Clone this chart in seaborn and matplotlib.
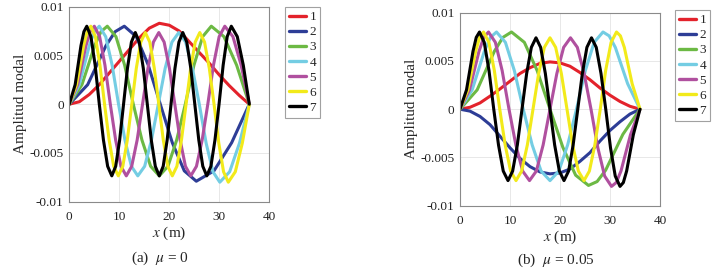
import numpy as np
import pandas as pd
import matplotlib
matplotlib.use("Agg")
import matplotlib.pyplot as plt
import seaborn as sns

# ---------------- data (amplitudes in units of 1e-3) ----------------
modes = ["1", "2", "3", "4", "5", "6", "7"]
colors = ["#e3222b", "#2d3d96", "#6cb944", "#74cde3", "#b0509f", "#f2ea1a", "#000000"]
x_ticks = [0, 10, 20, 30, 40]
y_ticks = [-0.01, -0.005, 0, 0.005, 0.01]
y_tick_labels = ["-0.01", "-0.005", "0", "0.005", "0.01"]
captions = ["(a)  $\\mu$ = 0", "(b)  $\\mu$ = 0.05"]

# panel (a): mu = 0
a1 = [(0, 0), (2, 0.25), (4, 1.0), (6, 2.0), (8, 3.2), (10, 4.4), (12, 5.6), (14, 6.8), (16, 7.8),
      (18, 8.3), (20, 8.1), (22, 7.5), (24, 6.4), (26, 5.3), (28, 4.2), (30, 3.0), (32, 1.9),
      (34, 0.9), (36, 0)]
a2 = [(0, 0), (3.67, 2.0), (7.33, 6.0), (9.17, 7.44), (11.0, 8.0), (13.4, 6.93), (15.8, 4.0),
      (18.2, 0), (20.6, -3.95), (23.0, -6.84), (25.4, -7.9), (28.93, -6.84), (32.47, -3.95), (36, 0)]
a3 = [(0, 0), (2.53, 2.0), (5.07, 6.0), (6.33, 7.44), (7.6, 8.0), (9.33, 6.93), (11.07, 4.0),
      (12.8, 0), (14.53, -3.68), (16.27, -6.37), (18.0, -7.35), (19.73, -6.37), (21.47, -3.68),
      (23.2, 0), (24.93, 4.0), (26.67, 6.93), (28.4, 8.0), (30.93, 6.93), (33.47, 4.0), (36, 0)]
a4 = [(0, 0), (2.0, 2.0), (4.0, 6.0), (5.0, 7.44), (6.0, 8.0), (7.28, 6.93), (8.57, 4.0),
      (9.85, 0), (11.13, -3.68), (12.42, -6.37), (13.7, -7.35), (15.07, -6.37), (16.43, -3.68),
      (17.8, 0), (19.17, 3.68), (20.53, 6.37), (21.9, 7.35), (23.27, 6.37), (24.63, 3.68),
      (26.0, 0), (27.37, -4.0), (28.73, -6.93), (30.1, -8.0), (32.07, -6.93), (34.03, -4.0), (36, 0)]
a5 = [(0, 0), (1.67, 2.0), (3.33, 6.0), (4.17, 7.44), (5.0, 8.0), (6.07, 6.93), (7.13, 4.0),
      (8.2, 0), (9.27, -3.68), (10.33, -6.37), (11.4, -7.35), (12.48, -6.37), (13.57, -3.68),
      (14.65, 0), (15.73, 3.68), (16.82, 6.37), (17.9, 7.35), (18.97, 6.37), (20.03, 3.68),
      (21.1, 0), (22.17, -3.68), (23.23, -6.37), (24.3, -7.35), (25.43, -6.37), (26.57, -3.68),
      (27.7, 0), (28.83, 4.0), (29.97, 6.93), (31.1, 8.0), (32.73, 6.93), (34.37, 4.0), (36, 0)]
a6 = [(0, 0), (1.43, 2.0), (2.87, 6.0), (3.58, 7.44), (4.3, 8.0), (5.22, 6.93), (6.13, 4.0),
      (7.05, 0), (7.97, -3.68), (8.88, -6.37), (9.8, -7.35), (10.7, -6.37), (11.6, -3.68),
      (12.5, 0), (13.4, 3.68), (14.3, 6.37), (15.2, 7.35), (16.1, 6.37), (17.0, 3.68),
      (17.9, 0), (18.8, -3.68), (19.7, -6.37), (20.6, -7.35), (21.52, -6.37), (22.43, -3.68),
      (23.35, 0), (24.27, 3.68), (25.18, 6.37), (26.1, 7.35), (27.05, 6.37), (28.0, 3.68),
      (28.95, 0), (29.9, -4.0), (30.85, -6.93), (31.8, -8.0), (33.2, -6.93), (34.6, -4.0), (36, 0)]
a7 = [(0, 0), (1.17, 2.0), (2.33, 6.0), (2.92, 7.44), (3.5, 8.0), (4.33, 6.93), (5.17, 4.0),
      (6.0, 0), (6.83, -3.68), (7.67, -6.37), (8.5, -7.35), (9.28, -6.37), (10.07, -3.68),
      (10.85, 0), (11.63, 3.68), (12.42, 6.37), (13.2, 7.35), (14.0, 6.37), (14.8, 3.68),
      (15.6, 0), (16.4, -3.68), (17.2, -6.37), (18.0, -7.35), (18.78, -6.37), (19.57, -3.68),
      (20.35, 0), (21.13, 3.68), (21.92, 6.37), (22.7, 7.35), (23.5, 6.37), (24.3, 3.68),
      (25.1, 0), (25.9, -3.68), (26.7, -6.37), (27.5, -7.35), (28.32, -6.37), (29.13, -3.68),
      (29.95, 0), (30.77, 4.0), (31.58, 6.93), (32.4, 8.0), (33.6, 6.93), (34.8, 4.0), (36, 0)]

# panel (b): mu = 0.05
b1 = [(0, 0), (2, 0.2), (4, 0.65), (6, 1.35), (8, 2.1), (10, 2.9), (12, 3.7), (14, 4.3), (16, 4.75),
      (18, 4.9), (20, 4.8), (22, 4.45), (24, 3.8), (26, 3.05), (28, 2.2), (30, 1.45), (32, 0.8),
      (34, 0.3), (36, 0)]
b2 = [(0, 0), (2, -0.2), (4, -0.75), (6, -1.6), (8, -2.8), (10, -4.0), (12, -5.1), (14, -5.95),
      (16, -6.5), (18, -6.7), (20, -6.6), (22, -6.2), (24, -5.4), (26, -4.5), (28, -3.3),
      (30, -2.2), (32, -1.3), (34, -0.5), (36, 0)]
b3 = [(0, 0), (3.43, 2.0), (6.87, 6.0), (8.58, 7.44), (10.3, 8.0), (12.87, 6.93), (15.43, 4.0),
      (18.0, 0), (20.57, -3.95), (23.13, -6.84), (25.7, -7.9), (27.42, -7.5), (29.13, -6.32),
      (32.57, -2.61), (36, 0)]
b4 = [(0, 0), (2.43, 2.0), (4.87, 6.0), (6.08, 7.44), (7.3, 8.0), (9.08, 6.93), (10.87, 4.0),
      (12.65, 0), (14.43, -3.7), (16.22, -6.41), (18.0, -7.4), (19.77, -6.41), (21.53, -3.7),
      (23.3, 0), (25.07, 4.0), (26.83, 6.93), (28.6, 8.0), (29.83, 7.6), (31.07, 6.4),
      (33.53, 2.64), (36, 0)]
b5 = [(0, 0), (1.9, 2.0), (3.8, 6.0), (4.75, 7.44), (5.7, 8.0), (7.07, 6.93), (8.43, 4.0),
      (9.8, 0), (11.17, -3.7), (12.53, -6.41), (13.9, -7.4), (15.27, -6.41), (16.63, -3.7),
      (18.0, 0), (19.37, 3.7), (20.73, 6.41), (22.1, 7.4), (23.47, 6.41), (24.83, 3.7),
      (26.2, 0), (27.57, -4.0), (28.93, -6.93), (30.3, -8.0), (31.25, -7.6), (32.2, -6.4),
      (34.1, -2.64), (36, 0)]
b6 = [(0, 0), (1.57, 2.0), (3.13, 6.0), (3.92, 7.44), (4.7, 8.0), (5.78, 6.93), (6.87, 4.0),
      (7.95, 0), (9.03, -3.7), (10.12, -6.41), (11.2, -7.4), (12.33, -6.41), (13.47, -3.7),
      (14.6, 0), (15.73, 3.7), (16.87, 6.41), (18.0, 7.4), (19.13, 6.41), (20.27, 3.7),
      (21.4, 0), (22.53, -3.7), (23.67, -6.41), (24.8, -7.4), (25.88, -6.41), (26.97, -3.7),
      (28.05, 0), (29.13, 4.0), (30.22, 6.93), (31.3, 8.0), (32.08, 7.6), (32.87, 6.4),
      (34.43, 2.64), (36, 0)]
b7 = [(0, 0), (1.3, 2.0), (2.6, 6.0), (3.25, 7.44), (3.9, 8.0), (4.85, 6.93), (5.8, 4.0),
      (6.75, 0), (7.7, -3.7), (8.65, -6.41), (9.6, -7.4), (10.53, -6.41), (11.47, -3.7),
      (12.4, 0), (13.33, 3.7), (14.27, 6.41), (15.2, 7.4), (16.13, 6.41), (17.07, 3.7),
      (18.0, 0), (18.93, -3.7), (19.87, -6.41), (20.8, -7.4), (21.72, -6.41), (22.63, -3.7),
      (23.55, 0), (24.47, 3.7), (25.38, 6.41), (26.3, 7.4), (27.25, 6.41), (28.2, 3.7),
      (29.15, 0), (30.1, -4.0), (31.05, -6.93), (32.0, -8.0), (32.67, -7.6), (33.33, -6.4),
      (34.67, -2.64), (36, 0)]

panel_a = [a1, a2, a3, a4, a5, a6, a7]
panel_b = [b1, b2, b3, b4, b5, b6, b7]


def to_frame(curves):
    rows = []
    for name, pts in zip(modes, curves):
        for i, (xv, yv) in enumerate(pts):
            rows.append({"mode": name, "order": i, "x": xv, "y": yv * 1e-3})
    return pd.DataFrame(rows)


# ---------------- styling ----------------
sns.set_theme(style="whitegrid")
plt.rcParams["font.family"] = ["Liberation Serif", "DejaVu Serif"]
plt.rcParams["mathtext.fontset"] = "stix"

W, H = 716, 271
fig = plt.figure(figsize=(W / 100, H / 100), dpi=100)
fig.patch.set_facecolor("white")

# axes boxes in pixels (left, top, right, bottom)
boxes = [(69.3, 6.7, 269.3, 201.7), (460.0, 12.7, 660.0, 205.7)]
legend_pos = [(285, 7), (675, 10)]
caption_pos = [(160, 258), (556, 260)]
palette = dict(zip(modes, colors))

for k, curves in enumerate([panel_a, panel_b]):
    l, t, r, b = boxes[k]
    ax = fig.add_axes([l / W, 1 - b / H, (r - l) / W, (b - t) / H])
    df = to_frame(curves)
    sns.lineplot(data=df, x="x", y="y", hue="mode", hue_order=modes, palette=palette,
                 sort=False, estimator=None, units="mode", linewidth=2.2, ax=ax, legend=True)
    ax.set_xlim(0, 40)
    ax.set_ylim(-0.01, 0.01)
    ax.set_xticks(x_ticks)
    ax.set_xticklabels([str(v) for v in x_ticks])
    ax.set_yticks(y_ticks)
    ax.set_yticklabels(y_tick_labels)
    ax.tick_params(labelsize=9.5, colors="#222222", direction="in", length=2)
    ax.tick_params(axis="x", pad=7)
    ax.tick_params(axis="y", pad=4)
    ax.grid(True, color="#e8e8e8", linewidth=0.7)
    ax.set_facecolor("white")
    for sp in ax.spines.values():
        sp.set_color("#8a8a8a")
        sp.set_linewidth(0.8)
    ax.set_xlabel("$x$ (m)", fontsize=11, labelpad=1)
    ax.set_ylabel("Amplitud modal", fontsize=11, labelpad=2)
    lx, ly = legend_pos[k]
    sns.move_legend(ax, loc="upper left", bbox_to_anchor=(lx / W, 1 - ly / H),
                    bbox_transform=fig.transFigure, title=None, frameon=True,
                    fontsize=9.5, handlelength=1.3, handletextpad=0.25, labelspacing=0.22,
                    borderpad=0.3, borderaxespad=0, fancybox=False)
    leg = ax.get_legend()
    leg.get_frame().set_edgecolor("#8a8a8a")
    leg.get_frame().set_linewidth(0.8)
    for ln in leg.get_lines():
        ln.set_linewidth(2.4)
    cx, cy = caption_pos[k]
    fig.text(cx / W, 1 - cy / H, captions[k], ha="center", va="center", fontsize=11)

fig.savefig("out.png", dpi=100, facecolor="white")
